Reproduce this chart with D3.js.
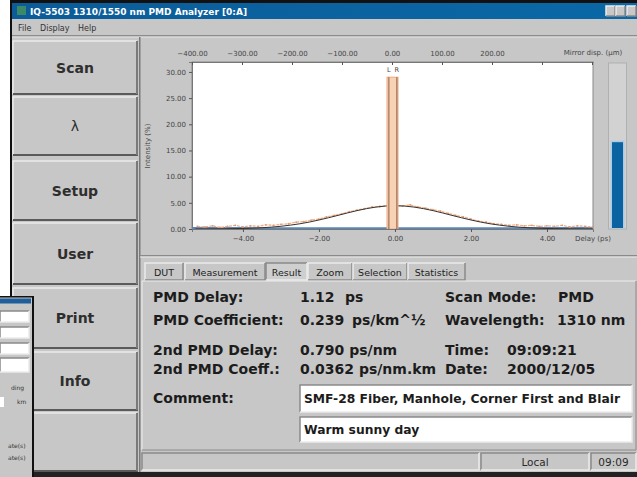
<!DOCTYPE html>
<html><head><meta charset="utf-8">
<script src="https://cdn.jsdelivr.net/npm/d3@7"></script>
<style>
html,body{margin:0;padding:0;background:#fff;}
svg{display:block;font-family:"DejaVu Sans",sans-serif;}
</style></head>
<body>
<svg id="c" width="637" height="477"></svg>
<script>
// ---------------- DATA ----------------
const titleText = "IQ-5503 1310/1550 nm PMD Analyzer [0:A]";
const menuItems = ["File", "Display", "Help"];
const buttonLabels = ["Scan", "λ", "Setup", "User", "Print", "Info", ""];
const tabLabels = ["DUT", "Measurement", "Result", "Zoom", "Selection", "Statistics"];
const selectedTab = "Result";

// measured interferogram envelope (orange), delay in ps, intensity in %
const measDelays = [-5.2,-5.0,-4.8,-4.6,-4.4,-4.2,-4.0,-3.8,-3.6,-3.4,-3.2,-3.0,-2.8,-2.6,-2.4,-2.2,-2.0,-1.8,-1.6,-1.4,-1.2,-1.0,-0.8,-0.6,-0.4,-0.2,0.0,0.2,0.4,0.6,0.8,1.0,1.2,1.4,1.6,1.8,2.0,2.2,2.4,2.6,2.8,3.0,3.2,3.4,3.6,3.8,4.0,4.2,4.4,4.6,4.8,5.0,5.2];
const measValues = [0.5,0.4,0.6,0.3,0.5,0.7,0.4,0.6,0.5,0.8,0.7,0.9,1.0,1.3,1.4,1.7,1.9,2.3,2.6,2.9,3.3,3.6,3.9,4.2,4.3,4.5,4.5,4.4,4.6,4.2,4.0,3.7,3.4,3.0,2.6,2.3,1.9,1.5,1.3,1.0,0.9,0.7,0.8,0.6,0.7,0.5,0.6,0.5,0.7,0.4,0.6,0.5,0.4];

// fitted gaussian (black)
const fitDelays = [-5.25,-5.0,-4.5,-4.0,-3.75,-3.5,-3.25,-3.0,-2.75,-2.5,-2.25,-2.0,-1.75,-1.5,-1.25,-1.0,-0.75,-0.5,-0.25,0.0,0.25,0.5,0.75,1.0,1.25,1.5,1.75,2.0,2.25,2.5,2.75,3.0,3.25,3.5,3.75,4.0,4.5,5.0,5.2];
const fitValues = [0.01,0.01,0.04,0.10,0.16,0.24,0.36,0.52,0.74,1.00,1.33,1.72,2.15,2.60,3.07,3.51,3.89,4.19,4.38,4.45,4.38,4.19,3.89,3.51,3.07,2.60,2.15,1.72,1.33,1.00,0.74,0.52,0.36,0.24,0.16,0.10,0.04,0.01,0.01];

// reference baseline (blue)
const baseDelays = [-5.34,-4.0,-2.0,0.0,2.0,4.0,5.21];
const baseValues = [0.15,0.12,0.10,0.10,0.10,0.12,0.15];

// central fringe peak and cursors
const fringeStart = -0.21, fringeEnd = 0.08, fringePeak = 29.0;
const cursorL = -0.16, cursorR = 0.05;

const yTicks = [0, 5, 10, 15, 20, 25, 30];
const xTicks = [-4, -2, 0, 2, 4];
const mirrorTicks = [-400, -300, -200, -100, 0, 100, 200, 300, 400];
const mirrorLabeled = [-400, -300, -200, -100, 0, 100, 200];
const signalLevel = 0.52;

const resultRows = [
  {label:"PMD Delay:", value:"1.12", unit:"ps", unitX:345, label2:"Scan Mode:", value2:"PMD", v2x:558, y:302},
  {label:"PMD Coefficient:", value:"0.239", unit:"ps/km^½", unitX:352, label2:"Wavelength:", value2:"1310 nm", v2x:557, y:325},
  {label:"2nd PMD Delay:", value:"0.790 ps/nm", unit:"", unitX:0, label2:"Time:", value2:"09:09:21", v2x:507, y:355},
  {label:"2nd PMD Coeff.:", value:"0.0362 ps/nm.km", unit:"", unitX:0, label2:"Date:", value2:"2000/12/05", v2x:507, y:374}
];
const commentLines = ["SMF-28 Fiber, Manhole, Corner First and Blair", "Warm sunny day"];
const statusItems = ["", "Local", "09:09"];

// ---------------- DRAW ----------------
const svg = d3.select("#c");
const BG = "#c7c7c7", HI = "#ececec", SH = "#8a8a8a";

function bevel(g, x, y, w, h, raised, fill) {
  g.append("rect").attr("x", x).attr("y", y).attr("width", w).attr("height", h).attr("fill", fill || BG);
  const a = raised ? HI : SH, b = raised ? SH : HI;
  g.append("path").attr("d", `M${x},${y+h}V${y}H${x+w}`).attr("stroke", a).attr("stroke-width", 1.5).attr("fill", "none");
  g.append("path").attr("d", `M${x},${y+h}H${x+w}V${y}`).attr("stroke", b).attr("stroke-width", 1.5).attr("fill", "none");
}

// background
svg.append("rect").attr("width", 637).attr("height", 477).attr("fill", BG);
svg.append("rect").attr("x", 0).attr("y", 0).attr("width", 10).attr("height", 297).attr("fill", "#fff");
svg.append("rect").attr("x", 10).attr("y", 0).attr("width", 2).attr("height", 297).attr("fill", "#111");
svg.append("rect").attr("x", 10).attr("y", 0).attr("width", 627).attr("height", 3).attr("fill", "#111");

// title bar
const defs = svg.append("defs");
const grad = defs.append("linearGradient").attr("id", "tbg");
grad.append("stop").attr("offset", "0").attr("stop-color", "#0b5c98");
grad.append("stop").attr("offset", "1").attr("stop-color", "#0a68a6");
svg.append("rect").attr("x", 12).attr("y", 3).attr("width", 625).attr("height", 16).attr("fill", "url(#tbg)");
svg.append("rect").attr("x", 17).attr("y", 6).attr("width", 9).attr("height", 9).attr("fill", "#3a8a6a");
svg.append("text").attr("x", 30).attr("y", 14.5).attr("fill", "#fff").attr("font-size", 9).attr("font-weight", "bold").text(titleText);
[606, 616, 627].forEach(x => bevel(svg, x, 6, 9, 10, true, "#c8c8c8"));

// menu bar
const menuX = [18, 40, 78];
svg.selectAll("text.menu").data(menuItems).join("text").attr("class", "menu")
  .attr("x", (d, i) => menuX[i]).attr("y", 31).attr("font-size", 8).attr("fill", "#333").text(d => d);
svg.append("rect").attr("x", 12).attr("y", 35).attr("width", 625).attr("height", 1.5).attr("fill", "#8c8c8c");
svg.append("rect").attr("x", 12).attr("y", 36.5).attr("width", 625).attr("height", 1).attr("fill", "#e6e6e6");

// left buttons
const btnBoxes = [[13,41,124,53],[13,97,124,58],[13,161,124,59],[13,223,124,61],[13,288,124,60],[13,352,124,58],[13,413,124,58]];
buttonLabels.forEach((lab, i) => {
  const [x, y, w, h] = btnBoxes[i];
  bevel(svg, x, y, w, h, true);
  svg.append("rect").attr("x", x).attr("y", y + h - 1).attr("width", w + 1).attr("height", 2).attr("fill", "#5a5a5a");
  svg.append("rect").attr("x", x + w - 1).attr("y", y).attr("width", 2).attr("height", h).attr("fill", "#7a7a7a");
  svg.append("text").attr("x", x + w / 2).attr("y", y + h / 2 + 5).attr("text-anchor", "middle")
    .attr("font-size", 14).attr("font-weight", lab === "λ" ? "normal" : "bold").attr("fill", "#2e2e2e").text(lab);
});
svg.append("rect").attr("x", 139).attr("y", 37).attr("width", 1.5).attr("height", 435).attr("fill", "#7a7a7a");

// ---------- chart ----------
const plotL = 192, plotR = 593, plotT = 62, plotB = 229;
const x = d3.scaleLinear().domain([-5.34, 5.21]).range([plotL, plotR]);
const y = d3.scaleLinear().domain([0, 31.9]).range([plotB, plotT]);
const xm = d3.scaleLinear().domain([-400, 402]).range([plotL, plotR]);

svg.append("rect").attr("x", plotL).attr("y", plotT).attr("width", plotR - plotL).attr("height", plotB - plotT)
  .attr("fill", "#fff").attr("stroke", "#8a8a8a");

const axisFont = g => g.selectAll("text").attr("font-size", 7).attr("fill", "#444").attr("font-family", "DejaVu Sans");
const axStyle = g => { g.select(".domain").attr("stroke", "#777"); g.selectAll(".tick line").attr("stroke", "#555"); };

svg.append("g").attr("transform", `translate(${plotL},0)`)
  .call(d3.axisLeft(y).tickValues(yTicks).tickFormat(d3.format(".2f")).tickSize(3).tickPadding(3))
  .call(axisFont).call(axStyle);
svg.append("g").attr("transform", `translate(0,${plotB})`)
  .call(d3.axisBottom(x).tickValues(xTicks).tickFormat(d3.format(".2f")).tickSize(3).tickPadding(4))
  .call(axisFont).call(axStyle);
svg.append("g").attr("transform", `translate(0,${plotT})`)
  .call(d3.axisTop(xm).tickValues(mirrorTicks).tickFormat(d => mirrorLabeled.includes(d) ? d3.format(".2f")(d) : "").tickSizeInner(-3).tickSizeOuter(0).tickPadding(6))
  .call(axisFont).call(axStyle);

svg.append("text").attr("x", 593).attr("y", 55).attr("text-anchor", "middle").attr("font-size", 7).attr("fill", "#444").text("Mirror disp. (µm)");
svg.append("text").attr("x", 593).attr("y", 241).attr("text-anchor", "middle").attr("font-size", 7).attr("fill", "#444").text("Delay (ps)");
svg.append("text").attr("transform", "translate(150,146) rotate(-90)").attr("text-anchor", "middle").attr("font-size", 7).attr("fill", "#444").text("Intensity (%)");

const clip = defs.append("clipPath").attr("id", "pc");
clip.append("rect").attr("x", plotL).attr("y", plotT).attr("width", plotR - plotL).attr("height", plotB - plotT);
const pg = svg.append("g").attr("clip-path", "url(#pc)");

// blue baseline
pg.append("path").datum(d3.zip(baseDelays, baseValues))
  .attr("d", d3.line().x(d => x(d[0])).y(d => y(d[1])))
  .attr("fill", "none").attr("stroke", "#5a86b6").attr("stroke-width", 2.5);

// measured
pg.append("path").datum(d3.zip(measDelays, measValues))
  .attr("d", d3.line().x(d => x(d[0])).y(d => y(d[1])))
  .attr("fill", "none").attr("stroke", "#f2b08a").attr("stroke-width", 1.3).attr("stroke-dasharray", "3,1");
pg.selectAll("circle.m").data(d3.zip(measDelays, measValues)).join("circle").attr("class", "m")
  .attr("cx", d => x(d[0])).attr("cy", d => y(d[1])).attr("r", 0.9).attr("fill", "#e89868");

// fit
pg.append("path").datum(d3.zip(fitDelays, fitValues))
  .attr("d", d3.line().curve(d3.curveMonotoneX).x(d => x(d[0])).y(d => y(d[1])))
  .attr("fill", "none").attr("stroke", "#333").attr("stroke-width", 1);

// central fringe band
pg.append("rect").attr("x", x(fringeStart)).attr("y", y(fringePeak))
  .attr("width", x(fringeEnd) - x(fringeStart)).attr("height", y(0) - y(fringePeak))
  .attr("fill", "#f7d2b4").attr("stroke", "#eeaa7c").attr("stroke-width", 1);
[cursorL, cursorR].forEach(c => {
  pg.append("line").attr("x1", x(c)).attr("x2", x(c)).attr("y1", y(fringePeak)).attr("y2", plotB)
    .attr("stroke", "#8a6048").attr("stroke-width", 1);
});
svg.append("text").attr("x", x(cursorL)).attr("y", 72).attr("text-anchor", "middle").attr("font-size", 6.5).attr("fill", "#444").text("L");
svg.append("text").attr("x", x(cursorR)).attr("y", 72).attr("text-anchor", "middle").attr("font-size", 6.5).attr("fill", "#444").text("R");

// level gauge
const gT = 63, gB = 228;
svg.append("rect").attr("x", 608.5).attr("y", gT).attr("width", 18).attr("height", gB - gT + 1).attr("fill", "#d2d2d2").attr("stroke", "#b0b0b0");
const gy = d3.scaleLinear().domain([0, 1]).range([gB, gT]);
svg.append("rect").attr("x", 610.5).attr("y", gy(signalLevel) - 1.5).attr("width", 14).attr("height", gB - gy(signalLevel) + 2).attr("fill", "#a9cbe6");
svg.append("rect").attr("x", 612).attr("y", gy(signalLevel)).attr("width", 11).attr("height", gB - gy(signalLevel)).attr("fill", "#0a62a0");

// separator under chart
svg.append("rect").attr("x", 140).attr("y", 255).attr("width", 497).attr("height", 1.5).attr("fill", "#8a8a8a");
svg.append("rect").attr("x", 140).attr("y", 256.5).attr("width", 497).attr("height", 1).attr("fill", "#ececec");

// tabs
const tabBoxes = [[145,38],[185,80],[266,41],[308,44],[353,54],[408,57]];
tabLabels.forEach((t, i) => {
  const [tx, tw] = tabBoxes[i];
  const sel = t === selectedTab;
  bevel(svg, tx, 263, tw, 17, !sel, sel ? "#cfcfcf" : BG);
  svg.append("text").attr("x", tx + tw / 2).attr("y", 276).attr("text-anchor", "middle")
    .attr("font-size", 9.5).attr("fill", "#222").text(t);
});

// result panel
svg.append("path").attr("d", "M142,450V281H636").attr("stroke", "#ededed").attr("fill", "none");
svg.append("path").attr("d", "M142,450H636V281").attr("stroke", "#8a8a8a").attr("fill", "none");

const rt = svg.append("g").attr("font-size", 14).attr("font-weight", "bold").attr("fill", "#1c1c1c");
resultRows.forEach(r => {
  rt.append("text").attr("x", 153).attr("y", r.y).text(r.label);
  rt.append("text").attr("x", 300).attr("y", r.y).text(r.value);
  if (r.unit) rt.append("text").attr("x", r.unitX).attr("y", r.y).text(r.unit);
  rt.append("text").attr("x", 445).attr("y", r.y).text(r.label2);
  rt.append("text").attr("x", r.v2x).attr("y", r.y).text(r.value2);
});
rt.append("text").attr("x", 153).attr("y", 403).text("Comment:");

const boxY = [[385, 27], [417, 25]];
commentLines.forEach((c, i) => {
  const [by, bh] = boxY[i];
  bevel(svg, 300, by, 332, bh, false, "#fff");
  svg.append("text").attr("x", 304).attr("y", by + bh / 2 + 4.5).attr("font-size", 12.3).attr("font-weight", "bold").attr("fill", "#1c1c1c").text(c);
});

// status bar
const statusBoxes = [[142, 337], [481, 108], [591, 45]];
statusItems.forEach((s, i) => {
  const [sx, sw] = statusBoxes[i];
  bevel(svg, sx, 453, sw, 17, false);
  svg.append("text").attr("x", sx + sw / 2).attr("y", 466).attr("text-anchor", "middle").attr("font-size", 10.5).attr("fill", "#2a2a2a").text(s);
});
svg.append("rect").attr("x", 33).attr("y", 472).attr("width", 604).attr("height", 5).attr("fill", "#222");

// overlapping small window (bottom-left)
const sw = svg.append("g");
sw.append("rect").attr("x", 0).attr("y", 297).attr("width", 33).attr("height", 180).attr("fill", BG);
sw.append("rect").attr("x", 0).attr("y", 296).attr("width", 34).attr("height", 1.5).attr("fill", "#111");
sw.append("rect").attr("x", 32).attr("y", 296).attr("width", 2).attr("height", 181).attr("fill", "#111");
sw.append("rect").attr("x", 0).attr("y", 298.5).attr("width", 31).attr("height", 5).attr("fill", "#1e5e9a");
[[311, 11], [327, 11], [343, 11], [358, 14]].forEach(([fy, fh]) => bevel(sw, 0, fy, 29, fh, false, "#fff"));
sw.append("rect").attr("x", 0).attr("y", 397).attr("width", 4).attr("height", 10).attr("fill", "#fff");
const smallTxt = [["ding", 11, 390], ["km", 17, 404], ["ate(s)", 8, 448], ["ate(s)", 8, 460]];
smallTxt.forEach(([t, tx, ty]) => sw.append("text").attr("x", tx).attr("y", ty).attr("font-size", 6).attr("fill", "#333").text(t));
</script>
</body></html>
